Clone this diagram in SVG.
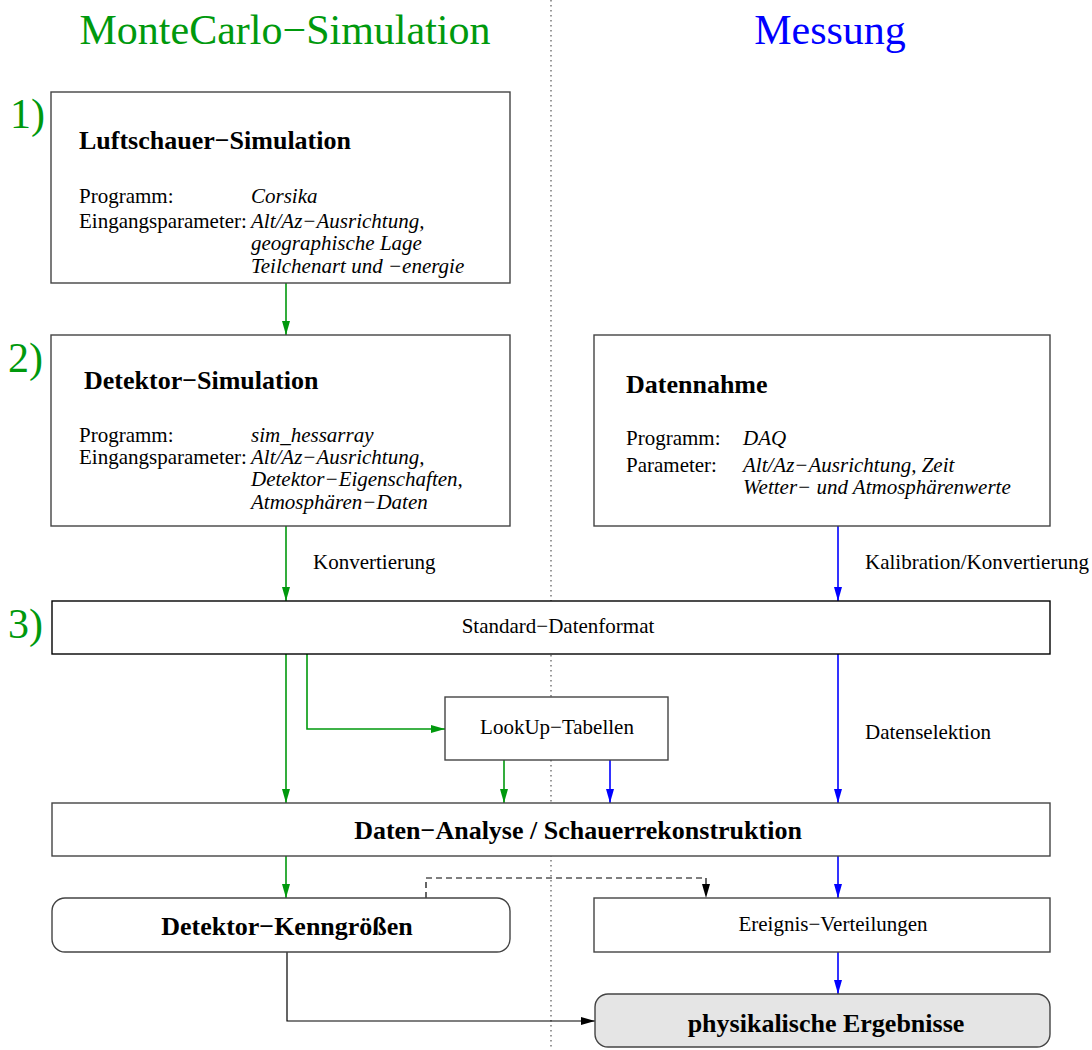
<svg xmlns="http://www.w3.org/2000/svg" width="1092" height="1050" viewBox="0 0 1092 1050">
<style>
text{font-family:"Liberation Serif","Times New Roman",serif;fill:#000}
.t{font-size:21px}
.i{font-size:21px;font-style:italic}
.b{font-size:26px;font-weight:bold}
.big{font-size:42px}
.box{fill:#fff;stroke:#444;stroke-width:1.4}
.g{stroke:#00990d;stroke-width:1.6;fill:none}
.bl{stroke:#0000ff;stroke-width:1.6;fill:none}
.k{stroke:#000;stroke-width:1.2;fill:none}
</style>
<defs>
<marker id="ag" viewBox="0 0 14 8" refX="14" refY="4" markerWidth="14" markerHeight="8" markerUnits="userSpaceOnUse" orient="auto"><path d="M0,0 L14,4 L0,8 z" fill="#00990d"/></marker>
<marker id="ab" viewBox="0 0 14 8" refX="14" refY="4" markerWidth="14" markerHeight="8" markerUnits="userSpaceOnUse" orient="auto"><path d="M0,0 L14,4 L0,8 z" fill="#0000ff"/></marker>
<marker id="ak" viewBox="0 0 14 8" refX="14" refY="4" markerWidth="14" markerHeight="8" markerUnits="userSpaceOnUse" orient="auto"><path d="M0,0 L14,4 L0,8 z" fill="#000"/></marker>
</defs>
<rect width="1092" height="1050" fill="#fff"/>
<line x1="551" y1="0" x2="551" y2="1050" stroke="#555" stroke-width="1.2" stroke-dasharray="1.5 3.5"/>
<g id="titles">
<text class="big" x="285" y="44" text-anchor="middle" style="fill:#00990d">MonteCarlo−Simulation</text>
<text class="big" x="830" y="44" text-anchor="middle" style="fill:#0000ff">Messung</text>
<text class="big" x="10" y="128" style="fill:#00990d">1)</text>
<text class="big" x="8" y="372" style="fill:#00990d">2)</text>
<text class="big" x="8" y="638" style="fill:#00990d">3)</text>
</g>
<g id="connectors">
<line class="g" x1="286" y1="283" x2="286" y2="335" marker-end="url(#ag)"/>
<line class="g" x1="286" y1="526" x2="286" y2="601" marker-end="url(#ag)"/>
<line class="bl" x1="838" y1="526" x2="838" y2="601" marker-end="url(#ab)"/>
<line class="g" x1="286" y1="654" x2="286" y2="803" marker-end="url(#ag)"/>
<polyline class="g" points="307,654 307,729 445,729" marker-end="url(#ag)"/>
<line class="g" x1="504" y1="760" x2="504" y2="803" marker-end="url(#ag)"/>
<line class="bl" x1="610" y1="760" x2="610" y2="803" marker-end="url(#ab)"/>
<line class="bl" x1="838" y1="654" x2="838" y2="803" marker-end="url(#ab)"/>
<line class="g" x1="286" y1="856" x2="286" y2="898" marker-end="url(#ag)"/>
<line class="bl" x1="838" y1="856" x2="838" y2="898" marker-end="url(#ab)"/>
<polyline class="k" points="426,898 426,878 706,878 706,898" stroke-dasharray="6 4" marker-end="url(#ak)"/>
<line class="bl" x1="838" y1="952" x2="838" y2="994" marker-end="url(#ab)"/>
<polyline class="k" points="287,952 287,1021 595,1021" marker-end="url(#ak)"/>
<text class="t" x="313" y="569">Konvertierung</text>
<text class="t" x="865" y="569">Kalibration/Konvertierung</text>
<text class="t" x="865" y="739">Datenselektion</text>
</g>
<g id="luftschauer">
<rect class="box" x="51" y="92" width="459" height="191"/>
<text class="b" x="79" y="149">Luftschauer−Simulation</text>
<text class="t" x="79" y="203">Programm:</text>
<text class="t" x="79" y="228">Eingangsparameter:</text>
<text class="i" x="251" y="203">Corsika</text>
<text class="i" x="251" y="228">Alt/Az−Ausrichtung,</text>
<text class="i" x="251" y="250">geographische Lage</text>
<text class="i" x="251" y="273">Teilchenart und −energie</text>
</g>
<g id="detektor-sim">
<rect class="box" x="51" y="335" width="459" height="191"/>
<text class="b" x="84" y="389">Detektor−Simulation</text>
<text class="t" x="79" y="442">Programm:</text>
<text class="t" x="79" y="464">Eingangsparameter:</text>
<text class="i" x="251" y="442">sim_hessarray</text>
<text class="i" x="251" y="464">Alt/Az−Ausrichtung,</text>
<text class="i" x="251" y="486">Detektor−Eigenschaften,</text>
<text class="i" x="251" y="509">Atmosphären−Daten</text>
</g>
<g id="datennahme">
<rect class="box" x="594" y="335" width="456" height="191"/>
<text class="b" x="626" y="393">Datennahme</text>
<text class="t" x="626" y="445">Programm:</text>
<text class="t" x="626" y="472">Parameter:</text>
<text class="i" x="743" y="445">DAQ</text>
<text class="i" x="743" y="472">Alt/Az−Ausrichtung, Zeit</text>
<text class="i" x="743" y="494">Wetter− und Atmosphärenwerte</text>
</g>
<g id="standard">
<rect class="box" x="52" y="601" width="998" height="53" style="stroke:#000"/>
<text class="t" x="558" y="633" text-anchor="middle">Standard−Datenformat</text>
</g>
<g id="lookup">
<rect class="box" x="445" y="697" width="223" height="63"/>
<text class="t" x="557" y="734" text-anchor="middle">LookUp−Tabellen</text>
</g>
<g id="analyse">
<rect class="box" x="52" y="803" width="998" height="53"/>
<text class="b" x="578" y="839" text-anchor="middle">Daten−Analyse / Schauerrekonstruktion</text>
</g>
<g id="kenngroessen">
<rect class="box" x="52" y="898" width="458" height="54" rx="13"/>
<text class="b" x="287" y="935" text-anchor="middle">Detektor−Kenngrößen</text>
</g>
<g id="verteilungen">
<rect class="box" x="594" y="898" width="456" height="54"/>
<text class="t" x="833" y="931" text-anchor="middle">Ereignis−Verteilungen</text>
</g>
<g id="ergebnisse">
<rect class="box" x="595" y="994" width="455" height="53" rx="13" style="fill:#e5e5e5"/>
<text class="b" x="826" y="1032" text-anchor="middle">physikalische Ergebnisse</text>
</g>
</svg>
